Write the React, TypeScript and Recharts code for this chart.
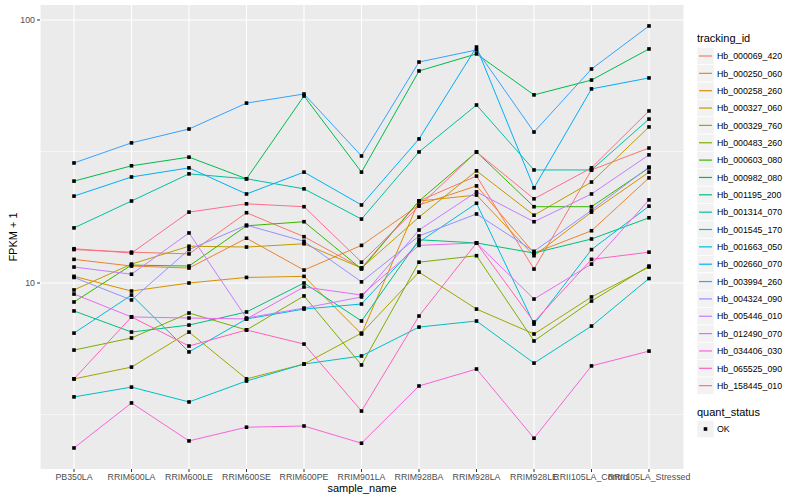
import React from 'react';
import { LineChart, Line, XAxis, YAxis, CartesianGrid, ReferenceLine } from 'recharts';

const samples = [
  'PB350LA', 'RRIM600LA', 'RRIM600LE', 'RRIM600SE', 'RRIM600PE', 'RRIM901LA',
  'RRIM928BA', 'RRIM928LA', 'RRIM928LE', 'RRII105LA_Control', 'RRII105LA_Stressed'
];

// FPKM + 1, one value per sample
const hb000069_420 = [13.4, 13.1, 12.9, 18.5, 15.0, 11.4, 20.5, 25.5, 11.3, 26.9, 32.6];
const hb000250_060 = [12.3, 11.6, 11.4, 14.8, 11.2, 13.9, 19.8, 23.4, 13.0, 15.8, 25.1];
const hb000258_260 = [10.6, 9.32, 10.0, 10.5, 10.6, 6.4, 20.5, 21.6, 12.7, 18.6, 26.4];
const hb000327_060 = [9.41, 11.8, 13.8, 13.7, 14.1, 11.4, 17.8, 26.7, 18.1, 24.2, 39.2];
const hb000329_760 = [4.32, 4.79, 6.51, 4.32, 4.92, 6.45, 11.0, 7.96, 6.4, 8.85, 11.5];
const hb000483_260 = [5.56, 6.18, 7.69, 6.63, 8.93, 4.88, 12.0, 12.7, 6.02, 8.54, 11.6];
const hb000603_080 = [8.47, 11.7, 11.6, 16.5, 17.1, 11.3, 20.5, 31.5, 19.5, 19.5, 27.4];
const hb000982_080 = [24.4, 27.9, 30.1, 24.9, 51.4, 26.4, 64.0, 74.3, 51.9, 59.1, 77.6];
const hb001195_200 = [7.83, 6.51, 6.92, 7.76, 10.0, 7.17, 14.6, 14.2, 13.0, 14.7, 17.7];
const hb001314_070 = [16.2, 20.5, 26.0, 24.9, 22.8, 17.5, 31.5, 47.5, 26.9, 26.9, 42.0];
const hb001545_170 = [3.69, 4.02, 3.53, 4.24, 4.92, 5.28, 6.8, 7.17, 4.96, 6.86, 10.4];
const hb001663_050 = [6.45, 9.0, 5.47, 7.3, 7.96, 8.32, 14.3, 20.1, 6.98, 13.4, 19.6];
const hb002660_070 = [21.4, 25.3, 27.4, 21.8, 26.4, 19.8, 35.3, 78.9, 23.0, 54.7, 60.2];
const hb003994_260 = [28.6, 34.1, 38.5, 48.3, 52.3, 30.4, 69.2, 76.9, 37.5, 65.1, 94.9];
const hb004324_090 = [10.5, 8.62, 13.4, 16.6, 14.4, 10.1, 15.1, 18.3, 13.2, 18.9, 27.6];
const hb005446_010 = [11.5, 10.8, 15.5, 7.36, 8.03, 8.85, 15.9, 22.2, 17.1, 21.8, 30.7];
const hb012490_070 = [9.08, 7.43, 7.36, 7.3, 9.66, 9.0, 13.9, 14.2, 8.69, 11.8, 20.7];
const hb034406_030 = [2.36, 3.5, 2.51, 2.83, 2.86, 2.46, 4.06, 4.71, 2.57, 4.84, 5.51];
const hb065525_090 = [4.32, 7.43, 5.76, 6.63, 5.86, 3.26, 7.49, 14.2, 7.11, 12.3, 13.1];
const hb158445_010 = [13.5, 13.0, 18.6, 20.0, 19.5, 12.0, 19.6, 31.5, 20.9, 27.4, 45.1];

const trackingIds = [
  'Hb_000069_420', 'Hb_000250_060', 'Hb_000258_260', 'Hb_000327_060', 'Hb_000329_760',
  'Hb_000483_260', 'Hb_000603_080', 'Hb_000982_080', 'Hb_001195_200', 'Hb_001314_070',
  'Hb_001545_170', 'Hb_001663_050', 'Hb_002660_070', 'Hb_003994_260', 'Hb_004324_090',
  'Hb_005446_010', 'Hb_012490_070', 'Hb_034406_030', 'Hb_065525_090', 'Hb_158445_010'
];

const seriesValues = [
  hb000069_420, hb000250_060, hb000258_260, hb000327_060, hb000329_760,
  hb000483_260, hb000603_080, hb000982_080, hb001195_200, hb001314_070,
  hb001545_170, hb001663_050, hb002660_070, hb003994_260, hb004324_090,
  hb005446_010, hb012490_070, hb034406_030, hb065525_090, hb158445_010
];

// ggplot2 default hue palette for 20 levels
const hueColors = [
  '#F8766D', '#EA8331', '#D89000', '#C09B00', '#A3A500', '#7CAE00', '#39B600', '#00BB4E', '#00BF7D', '#00C1A3',
  '#00BFC4', '#00BAE0', '#00B0F6', '#35A2FF', '#9590FF', '#C77CFF', '#E76BF3', '#FA62DB', '#FF62BC', '#FF6C91'
];

const yTicks = [10, 100];
const yMinor = [3.162, 31.62];

const rows = samples.map((s, i) => {
  const row: Record<string, any> = { sample: s };
  trackingIds.forEach((id, k) => {
    row[id] = seriesValues[k][i];
  });
  return row;
});

const FONT = '"Liberation Sans", Arial, Helvetica, sans-serif';

const squareDot = (props: any) => {
  const { cx, cy, index, dataKey } = props;
  if (cx == null || cy == null) return <g key={`e-${dataKey}-${index}`} />;
  return <rect key={`d-${dataKey}-${index}`} x={cx - 1.8} y={cy - 1.8} width={3.6} height={3.6} fill="#000" />;
};

const Legends = () => {
  const x0 = 697;
  const step = 17.35;
  const first = 56;
  return (
    <svg width={800} height={500} style={{ position: 'absolute', left: 0, top: 0, pointerEvents: 'none' }}>
      <text x={13} y={237} transform="rotate(-90 13 237)" textAnchor="middle" dominantBaseline="central" fontSize={11} fill="#000" fontFamily={FONT}>
        FPKM + 1
      </text>
      <text x={362} y={492} textAnchor="middle" fontSize={11} fill="#000" fontFamily={FONT}>
        sample_name
      </text>
      <text x={x0} y={42} fontSize={11} fill="#000" fontFamily={FONT}>tracking_id</text>
      {trackingIds.map((id, i) => {
        const cy = first + i * step;
        return (
          <g key={id}>
            <rect x={x0} y={cy - 8.5} width={17} height={17} fill="#F2F2F2" stroke="#fff" strokeWidth={0.5} />
            <line x1={x0 + 2} x2={x0 + 15} y1={cy} y2={cy} stroke={hueColors[i]} strokeWidth={1.2} />
            <text x={x0 + 20} y={cy + 3.2} fontSize={8.8} fill="#000" fontFamily={FONT}>{id}</text>
          </g>
        );
      })}
      <text x={x0} y={416} fontSize={11} fill="#000" fontFamily={FONT}>quant_status</text>
      <rect x={x0} y={429 - 8.5} width={17} height={17} fill="#F2F2F2" stroke="#fff" strokeWidth={0.5} />
      <rect x={x0 + 6.7} y={429 - 1.8} width={3.6} height={3.6} fill="#000" />
      <text x={x0 + 20} y={432.2} fontSize={8.8} fill="#000" fontFamily={FONT}>OK</text>
    </svg>
  );
};

const App: React.FC = () => {
  return (
    <div style={{ position: 'absolute', left: 0, top: 0, width: 800, height: 500, background: '#fff', fontFamily: FONT }}>
      <LineChart width={800} height={500} data={rows} margin={{ top: 5, right: 116, bottom: 0, left: 5 }}>
        <CartesianGrid fill="#EBEBEB" stroke="#FFFFFF" strokeWidth={1.1} horizontalValues={yTicks} />
        {yMinor.map((v) => (
          <ReferenceLine key={v} y={v} stroke="#FFFFFF" strokeWidth={0.55} />
        ))}
        <XAxis
          dataKey="sample"
          interval={0}
          padding={{ left: 34, right: 35 }}
          height={31}
          axisLine={false}
          tickSize={3}
          tickMargin={2}
          tickLine={{ stroke: '#333333' }}
          tick={{ fontSize: 8.8, fill: '#4D4D4D', fontFamily: FONT }}
        />
        <YAxis
          scale="log"
          domain={[1.963, 114]}
          allowDataOverflow
          ticks={yTicks}
          width={35}
          axisLine={false}
          tickSize={3}
          tickMargin={2}
          tickLine={{ stroke: '#333333' }}
          tick={{ fontSize: 8.8, fill: '#4D4D4D', fontFamily: FONT }}
        />
        {trackingIds.map((id, i) => (
          <Line
            key={id}
            type="linear"
            dataKey={id}
            stroke={hueColors[i]}
            strokeWidth={1}
            dot={false}
            activeDot={false}
            isAnimationActive={false}
          />
        ))}
        {trackingIds.map((id) => (
          <Line
            key={`pts-${id}`}
            type="linear"
            dataKey={id}
            stroke="none"
            dot={squareDot}
            activeDot={false}
            isAnimationActive={false}
          />
        ))}
      </LineChart>
      <Legends />
    </div>
  );
};

export default App;
